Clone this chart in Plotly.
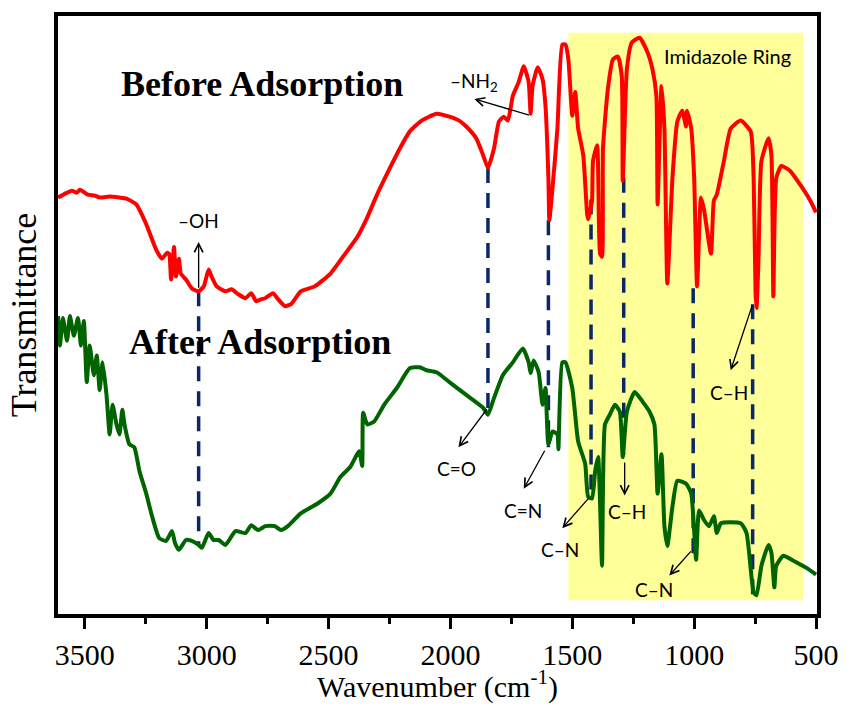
import plotly.graph_objects as go

# FTIR spectra (wavenumber in cm^-1, transmittance in arbitrary units)
before_wn = [3610, 3581, 3553, 3533, 3520, 3488, 3459, 3439, 3398, 3358, 3329, 3289, 3248, 3207,
             3183, 3163, 3154, 3146, 3134, 3126, 3114, 3106, 3085, 3061, 3033, 3012, 2992, 2980,
             2959, 2923, 2898, 2870, 2841, 2817, 2797, 2776, 2760, 2728, 2707, 2679, 2654, 2614,
             2557, 2492, 2435, 2382, 2341, 2301, 2248, 2207, 2167, 2118, 2057, 2004, 1964, 1935,
             1894, 1866, 1846, 1821, 1801, 1781, 1764, 1744, 1720, 1699, 1679, 1671, 1663, 1642,
             1622, 1610, 1598, 1594, 1581, 1561, 1541, 1528, 1516, 1500, 1488, 1476, 1455, 1439,
             1435, 1419, 1415, 1398, 1386, 1378, 1374, 1354, 1333, 1313, 1297, 1293, 1276, 1256,
             1224, 1191, 1171, 1155, 1150, 1134, 1122, 1110, 1089, 1069, 1049, 1033, 1029, 1012,
             1000, 988, 972, 959, 931, 919, 907, 878, 850, 809, 768, 756, 748, 744, 736, 724, 695,
             683, 675, 663, 642, 606, 565, 524, 500]
before_t = [421, 425, 428, 426, 429, 424, 423, 421, 422, 421, 420, 414, 394, 368,
            359, 365, 364, 338, 371, 341, 359, 344, 338, 329, 326, 331, 348, 341,
            331, 326, 328, 323, 319, 324, 316, 318, 319, 324, 318, 311, 313, 326,
            331, 344, 363, 381, 401, 424, 451, 471, 488, 499, 506, 503, 499, 493,
            481, 464, 451, 471, 498, 503, 499, 524, 538, 554, 538, 506, 534, 553,
            541, 514, 441, 398, 431, 491, 576, 576, 561, 504, 528, 491, 464, 404,
            399, 418, 458, 474, 364, 361, 471, 531, 561, 564, 544, 438, 551, 578,
            583, 568, 551, 524, 414, 534, 491, 334, 441, 498, 509, 493, 509, 491,
            441, 331, 421, 408, 364, 418, 424, 458, 491, 499, 488, 441, 324, 309, 358, 458, 481,
            464, 321, 441, 453, 448, 434, 418, 406]

after_wn = [3610, 3602, 3590, 3573, 3561, 3545, 3528, 3516, 3504, 3492, 3480, 3463, 3451, 3439,
            3427, 3411, 3398, 3386, 3370, 3358, 3346, 3337, 3317, 3297, 3276, 3248, 3224, 3195,
            3167, 3142, 3130, 3114, 3085, 3061, 3033, 3020, 2992, 2972, 2951, 2923, 2882, 2841,
            2817, 2789, 2760, 2720, 2695, 2667, 2614, 2545, 2492, 2451, 2411, 2374, 2362, 2358,
            2341, 2313, 2272, 2220, 2167, 2126, 2098, 2057, 2004, 1935, 1866, 1846, 1821, 1785,
            1744, 1703, 1679, 1671, 1659, 1638, 1622, 1610, 1598, 1581, 1561, 1557, 1541, 1528,
            1500, 1476, 1447, 1435, 1419, 1406, 1394, 1378, 1366, 1346, 1325, 1305, 1293, 1276,
            1244, 1211, 1183, 1163, 1150, 1134, 1122, 1110, 1089, 1069, 1033, 1012, 992, 980,
            959, 939, 919, 907, 890, 809, 785, 756, 744, 724, 695, 683, 671, 663, 634, 593, 541,
            500]
after_t = [301, 271, 299, 276, 301, 281, 299, 271, 296, 234, 271, 241, 261, 226,
           254, 221, 181, 211, 191, 181, 206, 191, 171, 168, 144, 121, 98, 76,
           73, 83, 71, 64, 74, 73, 69, 66, 81, 74, 74, 69, 83, 81,
           89, 84, 88, 88, 84, 88, 101, 111, 121, 138, 148, 164, 149, 203,
           191, 194, 211, 228, 248, 249, 246, 244, 234, 221, 208, 201, 218, 241,
           254, 268, 254, 243, 256, 244, 211, 228, 171, 184, 181, 166, 254, 254,
           228, 174, 151, 118, 116, 144, 158, 48, 191, 201, 211, 204, 158, 204,
           224, 214, 204, 191, 121, 161, 88, 68, 108, 134, 131, 121, 54, 104,
           94, 88, 98, 81, 91, 91, 81, 21, 18, 48, 69, 61, 26, 48, 58, 53, 46,
           39]

# Band assignments: dashed guide positions and their extent between the two spectra
band_wn = [3033, 1846, 1598, 1423, 1289, 1004, 760]
band_top = [326, 451, 398, 419, 441, 329, 313]
band_bottom = [69, 201, 168, 124, 161, 54, 18]

# Labelled bands: text, text position, arrow tail (on the spectrum) and arrow head
label_text = ["–OH", "–NH<sub>2</sub>", "C=O", "C=N", "C–N", "C–H", "C–N", "C–H"]
label_pos = [(3033, 398), (1902, 538), (1976, 146), (1703, 104), (1549, 64), (1276, 103), (1163, 24), (858, 223)]
arrow_tail = [(3033, 328), (1671, 504), (1846, 208), (1610, 166), (1427, 118), (1285, 154), (1008, 64), (760, 313)]
arrow_head = [(3033, 376), (1902, 521), (1967, 168), (1699, 126), (1541, 86), (1285, 119), (1102, 38), (850, 246)]

ring_region = (1516, 553)
x_range = [3610, 496]
y_range = [-1, 605]

fig = go.Figure()

fig.add_shape(type="rect", xref="x", yref="y", x0=ring_region[0], x1=ring_region[1],
              y0=13, y1=588, fillcolor="#FFFF99", line_width=0, layer="below")

for wn, top, bot in zip(band_wn, band_top, band_bottom):
    fig.add_trace(go.Scatter(x=[wn, wn], y=[top, bot], mode="lines",
                             line=dict(color="#0B2766", width=3.5, dash="15px,10px"),
                             hoverinfo="skip", showlegend=False))

fig.add_trace(go.Scatter(x=before_wn, y=before_t, mode="lines", name="Before Adsorption",
                         line=dict(color="#FF0000", width=4, shape="spline", smoothing=0.5),
                         showlegend=False))
fig.add_trace(go.Scatter(x=after_wn, y=after_t, mode="lines", name="After Adsorption",
                         line=dict(color="#006400", width=4, shape="spline", smoothing=0.5),
                         showlegend=False))

label_font = dict(family="Lato, 'Open Sans', sans-serif", size=19, color="black")
for txt, (tx, ty), (ax_, ay_), (hx, hy) in zip(label_text, label_pos, arrow_tail, arrow_head):
    fig.add_annotation(x=hx, y=hy, ax=ax_, ay=ay_, xref="x", yref="y", axref="x", ayref="y",
                       text="", showarrow=True, arrowhead=5, arrowsize=1.3, arrowwidth=1.3,
                       arrowcolor="black", standoff=0, startstandoff=0)
    fig.add_annotation(x=tx, y=ty, xref="x", yref="y", text=txt, showarrow=False, font=label_font)

fig.add_annotation(x=862, y=564, xref="x", yref="y", text="Imidazole Ring", showarrow=False,
                   font=dict(family="Lato, 'Open Sans', sans-serif", size=20, color="black"))

title_font = dict(family="'Liberation Serif', 'Times New Roman', serif", size=36, color="black")
fig.add_annotation(x=2772, y=536, xref="x", yref="y", text="<b>Before Adsorption</b>",
                   showarrow=False, font=title_font)
fig.add_annotation(x=2780, y=275, xref="x", yref="y", text="<b>After Adsorption</b>",
                   showarrow=False, font=title_font)

serif = "'Liberation Serif', 'Times New Roman', serif"
fig.update_xaxes(range=x_range, showgrid=False, zeroline=False,
                 showline=True, linecolor="black", linewidth=3.5, mirror=True,
                 ticks="outside", ticklen=11, tickwidth=3, tickcolor="black",
                 tick0=500, dtick=500,
                 minor=dict(ticks="outside", ticklen=6, tickwidth=3, tickcolor="black", dtick=250, tick0=500),
                 tickfont=dict(family=serif, size=30, color="black"),
                 title=dict(text="Wavenumber (cm<sup>-1</sup>)", font=dict(family=serif, size=30, color="black"),
                            standoff=0))
fig.update_yaxes(range=y_range, showgrid=False, zeroline=False,
                 showline=True, linecolor="black", linewidth=3.5, mirror=True,
                 ticks="", showticklabels=False,
                 title=dict(text="Transmittance", font=dict(family=serif, size=36, color="black"),
                            standoff=8))

fig.update_layout(width=851, height=704, margin=dict(l=58, r=27, t=16, b=82),
                  plot_bgcolor="white", paper_bgcolor="white", showlegend=False)

fig.write_html("out.html")
